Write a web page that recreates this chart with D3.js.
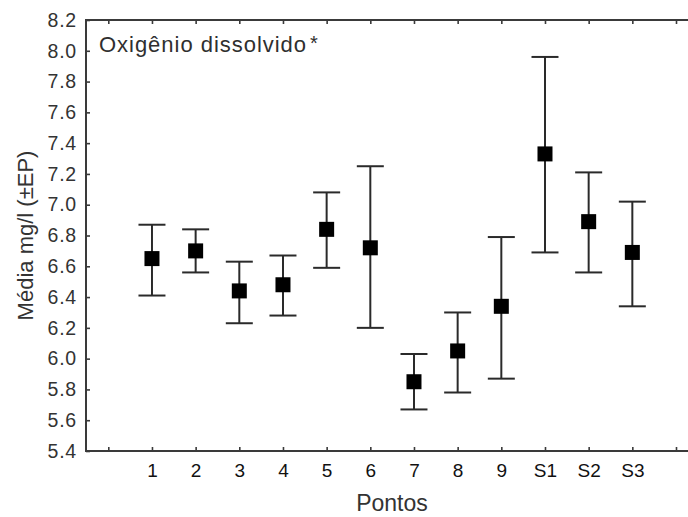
<!DOCTYPE html>
<html>
<head>
<meta charset="utf-8">
<script src="https://cdn.jsdelivr.net/npm/d3@7"></script>
<style>
  html, body { margin: 0; padding: 0; background: #fff; }
  svg { display: block; font-family: "Liberation Sans", Arial, sans-serif; }
</style>
</head>
<body>
<svg id="chart" width="688" height="517"></svg>
<script>
const categories = ["1", "2", "3", "4", "5", "6", "7", "8", "9", "S1", "S2", "S3"];
const means = [6.65, 6.70, 6.44, 6.48, 6.84, 6.72, 5.85, 6.05, 6.34, 7.33, 6.89, 6.69];
const upper = [6.87, 6.84, 6.63, 6.67, 7.08, 7.25, 6.03, 6.30, 6.79, 7.96, 7.21, 7.02];
const lower = [6.41, 6.56, 6.23, 6.28, 6.59, 6.20, 5.67, 5.78, 5.87, 6.69, 6.56, 6.34];
const xTickLabels = ["", ...categories, ""];
const yTicks = [5.4, 5.6, 5.8, 6.0, 6.2, 6.4, 6.6, 6.8, 7.0, 7.2, 7.4, 7.6, 7.8, 8.0, 8.2];
const title = "Oxigênio dissolvido";
const xTitle = "Pontos";
const yTitle = "Média mg/l (±EP)";

(function () {
const svg = d3.select("#chart");
const mLeft = 86, mTop = 20, mBottom = 451, mRight = 688;

const x = d3.scalePoint().domain(d3.range(xTickLabels.length)).range([108.3, 676]);
const y = d3.scaleLinear().domain([5.4, 8.2]).range([mBottom, mTop]);

const axisColor = "#3a3a3a";

// axes
const gx = svg.append("g").attr("transform", `translate(0,${mBottom})`)
  .call(d3.axisBottom(x).tickSizeInner(-4).tickSizeOuter(0).tickPadding(12.5)
    .tickFormat(i => xTickLabels[i]));
const gTop = svg.append("g").attr("transform", `translate(0,${mTop})`)
  .call(d3.axisTop(x).tickSizeInner(-4).tickSizeOuter(0).tickFormat(() => ""));
const gy = svg.append("g").attr("transform", `translate(${mLeft},0)`)
  .call(d3.axisLeft(y).tickValues(yTicks).tickSizeInner(-4).tickSizeOuter(0).tickPadding(9)
    .tickFormat(d3.format(".1f")));

[gx, gTop, gy].forEach(g => {
  g.select(".domain").remove();
  g.selectAll(".tick line").attr("stroke", axisColor).attr("stroke-width", 1.6);
});
gx.selectAll(".tick text").attr("font-size", 19).attr("fill", "#111")
  .attr("font-family", "Liberation Sans, Arial, sans-serif");
gy.selectAll(".tick text").attr("font-size", 19.5).attr("fill", "#333")
  .attr("letter-spacing", "0.8px")
  .attr("font-family", "Liberation Sans, Arial, sans-serif");

// axis lines
svg.append("line").attr("x1", mLeft).attr("x2", mRight).attr("y1", mBottom).attr("y2", mBottom)
  .attr("stroke", axisColor).attr("stroke-width", 2);
svg.append("line").attr("x1", mLeft).attr("x2", mRight).attr("y1", mTop).attr("y2", mTop)
  .attr("stroke", axisColor).attr("stroke-width", 2);
svg.append("line").attr("x1", mLeft).attr("x2", mLeft).attr("y1", mTop - 1).attr("y2", mBottom + 1)
  .attr("stroke", axisColor).attr("stroke-width", 2);

// error bars
const data = categories.map((c, i) => ({ idx: i + 1, m: means[i], hi: upper[i], lo: lower[i] }));
const capW = 13.5, sq = 15;
const g = svg.append("g");
const bars = g.selectAll("g.bar").data(data).join("g").attr("class", "bar");
bars.append("line").attr("x1", d => x(d.idx)).attr("x2", d => x(d.idx))
  .attr("y1", d => y(d.hi)).attr("y2", d => y(d.lo))
  .attr("stroke", "#2a2a2a").attr("stroke-width", 2);
bars.append("line").attr("x1", d => x(d.idx) - capW).attr("x2", d => x(d.idx) + capW)
  .attr("y1", d => y(d.hi)).attr("y2", d => y(d.hi))
  .attr("stroke", "#2a2a2a").attr("stroke-width", 2);
bars.append("line").attr("x1", d => x(d.idx) - capW).attr("x2", d => x(d.idx) + capW)
  .attr("y1", d => y(d.lo)).attr("y2", d => y(d.lo))
  .attr("stroke", "#2a2a2a").attr("stroke-width", 2);
bars.append("rect").attr("x", d => x(d.idx) - sq / 2).attr("y", d => y(d.m) - sq / 2)
  .attr("width", sq).attr("height", sq).attr("fill", "#000");

// title
svg.append("text").attr("x", 99).attr("y", 52).attr("font-size", 22)
  .attr("fill", "#2f2f2f").attr("textLength", 207).attr("lengthAdjust", "spacing").text(title);
svg.append("text").attr("x", 310).attr("y", 50).attr("font-size", 20).attr("fill", "#2f2f2f").text("*");

// axis titles
svg.append("text").attr("x", 392).attr("y", 511).attr("text-anchor", "middle")
  .attr("font-size", 23).attr("fill", "#333").text(xTitle);
svg.append("text").attr("transform", "translate(33,235.5) rotate(-90)").attr("text-anchor", "middle")
  .attr("font-size", 22).attr("fill", "#333").text(yTitle);
})();
</script>
</body>
</html>
